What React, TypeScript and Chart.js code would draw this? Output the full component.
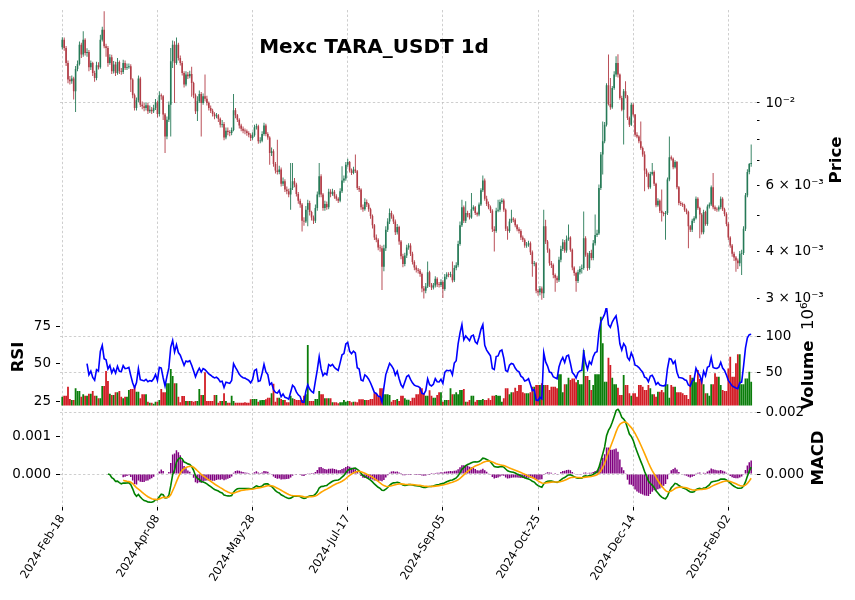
import React, { useEffect, useRef } from "react";
import { Chart, registerables } from "chart.js";

Chart.register(...registerables);

// ---------------- data ----------------
const TITLE = "Mexc TARA_USDT 1d";
const X_TICK_INDEX = [0, 50, 100, 150, 200, 250, 300, 350];
const X_TICK_LABELS = [
  "2024-Feb-18", "2024-Apr-08", "2024-May-28", "2024-Jul-17",
  "2024-Sep-05", "2024-Oct-25", "2024-Dec-14", "2025-Feb-02",
];

// prices are stored in units of 1e-5 USDT
const PRICE_UNIT = 1e-5;
const FIRST_OPEN = 1410;
const CLOSE = [
  1477,1403,1280,1155,1143,1162,1075,1233,1272,1432,
  1347,1477,1361,1369,1246,1280,1203,1167,1262,1246,
  1477,1571,1418,1403,1280,1325,1216,1267,1203,1288,
  1216,1211,1280,1241,1246,1254,1155,1049,970,1017,
  1162,990,980,970,986,950,960,950,970,1004,
  935,1049,1042,931,814,902,990,1293,1432,1280,
  1432,1320,1280,1203,1120,1191,1179,1196,1131,1049,
  950,1011,1057,1000,1042,1027,1000,970,954,935,
  921,927,908,875,879,809,843,836,831,847,
  956,927,902,871,853,843,840,831,823,806,
  820,861,866,790,793,826,871,826,809,735,
  743,687,660,654,664,608,618,587,581,569,
  593,618,605,571,548,535,484,482,518,540,
  511,494,484,524,569,637,569,524,537,526,
  579,571,579,563,555,548,581,621,628,684,
  695,660,650,664,657,593,587,526,520,544,
  535,520,499,471,437,431,411,409,365,409,
  458,482,508,497,482,451,466,426,389,371,
  391,411,416,395,376,363,358,356,349,319,
  315,323,353,327,321,325,339,327,326,332,
  318,343,348,347,348,336,362,368,420,471,
  526,484,508,501,494,520,526,508,503,535,
  584,621,555,537,526,515,460,455,515,518,
  544,549,518,461,455,482,490,487,471,460,
  455,437,431,416,418,422,399,371,373,315,
  312,319,310,468,426,405,373,369,347,341,
  336,381,407,424,403,433,437,405,363,351,
  334,353,360,362,435,393,362,397,385,422,
  444,448,593,728,790,875,1115,994,974,1097,
  1191,1280,1191,1031,960,1075,1042,912,875,990,
  931,823,814,790,758,728,660,646,595,646,
  654,608,533,548,515,508,505,508,624,716,
  710,673,695,595,540,537,533,518,511,468,
  458,484,492,555,524,503,451,511,475,529,
  535,595,526,520,519,526,555,520,505,475,
  437,416,395,386,379,373,395,397,461,567,
  654,687,691,
];
const HIGH = [
  1500,1497,1420,1300,1180,1185,1175,1255,1300,1460,
  1450,1555,1490,1400,1385,1300,1290,1220,1290,1285,
  1523,1600,1758,1440,1420,1350,1345,1295,1290,1320,
  1300,1240,1305,1300,1275,1275,1270,1165,1060,1035,
  1185,1175,1010,1000,1005,1000,985,975,990,1025,
  1015,1075,1060,1050,940,920,1010,1403,1470,1462,
  1497,1450,1340,1295,1215,1215,1210,1220,1250,1140,
  1060,1042,1080,1070,1060,1191,1045,1010,985,965,
  945,940,935,915,900,890,860,860,845,860,
  1057,970,935,910,880,865,855,850,840,830,
  835,875,880,875,810,840,885,880,835,815,
  760,752,695,798,680,672,632,625,598,590,
  691,691,630,612,578,555,540,495,530,551,
  548,515,500,535,580,691,645,575,548,545,
  590,588,590,585,570,560,592,677,640,695,
  710,700,668,675,728,662,600,592,535,556,
  552,540,525,503,475,445,435,418,415,418,
  468,492,522,515,503,488,475,470,430,395,
  398,418,422,422,400,380,368,362,360,352,
  324,330,377,356,330,330,344,342,332,338,
  336,349,353,353,354,377,368,375,428,482,
  551,532,546,515,508,575,533,530,512,542,
  592,640,628,565,545,532,520,468,525,551,
  552,556,555,522,468,490,518,495,492,475,
  465,460,442,435,425,428,426,403,378,376,
  318,324,323,518,487,430,408,378,372,350,
  345,388,415,432,430,442,473,440,408,366,
  354,358,366,370,513,440,398,402,405,430,
  503,458,605,740,893,890,1130,1347,1167,1110,
  1215,1333,1350,1200,1045,1090,1143,1050,920,1000,
  998,935,835,820,893,765,743,668,652,655,
  691,660,612,556,552,587,512,514,632,814,
  724,715,703,700,600,546,542,538,522,515,
  472,490,498,562,560,528,508,518,515,535,
  542,602,650,532,526,532,562,560,525,510,
  480,440,420,400,390,384,402,405,468,575,
  665,691,774,
];
const LOW = [
  1390,1380,1255,1130,1120,1125,1021,946,1215,1260,
  1320,1330,1340,1330,1215,1225,1180,1140,1150,1230,
  1235,1460,1400,1330,1250,1265,1195,1200,1180,1190,
  1195,1190,1195,1225,1225,1235,1070,1030,955,955,
  1005,975,962,950,955,935,940,935,940,958,
  915,920,1020,900,735,800,890,814,1240,1000,
  1265,1300,1260,1185,1100,1108,1160,1165,1040,1030,
  935,895,1000,814,990,1010,985,955,940,920,
  905,910,890,860,860,795,800,820,815,820,
  840,910,890,855,840,830,825,818,810,792,
  798,812,850,778,780,785,818,815,798,684,
  722,675,648,644,645,598,600,578,570,560,
  518,585,595,562,538,525,453,470,478,468,
  500,485,475,478,515,560,560,515,515,518,
  520,560,565,555,548,540,543,575,612,620,
  675,652,642,645,650,585,578,518,512,515,
  527,512,490,462,430,424,404,400,316,355,
  402,452,475,490,475,444,445,418,382,364,
  366,385,405,390,370,357,352,350,343,312,
  300,310,320,322,316,317,321,322,321,322,
  301,315,338,342,342,331,332,357,364,415,
  466,478,478,495,488,490,515,502,497,498,
  530,578,548,530,520,508,452,401,450,510,
  512,538,512,455,431,450,478,480,465,454,
  448,430,425,410,410,413,392,343,366,310,
  305,306,298,301,420,398,367,362,340,313,
  330,332,375,402,398,398,428,400,357,345,
  313,330,348,350,358,388,356,358,380,380,
  416,438,444,585,644,780,865,985,960,965,
  1085,1175,1170,1020,950,774,1030,900,862,868,
  920,812,805,780,750,718,581,635,588,590,
  640,600,526,528,508,482,498,431,502,618,
  702,665,668,588,533,530,527,512,504,409,
  452,452,478,488,518,435,445,446,470,470,
  522,530,520,514,512,513,520,514,498,468,
  430,410,388,378,354,360,366,347,392,455,
  560,645,675,
];
// volume in millions
const VOLUME_M = [
  16.7,18.1,18.1,30.6,13.4,12.1,12.1,28.3,24.6,24.6,
  16.7,19.9,18.1,18.1,20.9,20.9,24.6,18.1,18.1,14.4,
  14.4,31.5,31.5,52.3,38.4,20.9,19.0,19.0,22.7,22.7,
  24.6,16.7,14.4,16.7,16.7,25.9,27.3,27.3,30.6,23.6,
  23.6,14.4,19.9,19.9,19.9,9.7,8.4,8.4,7.0,9.7,
  9.7,12.1,27.3,22.7,22.7,35.2,35.2,55.1,45.4,35.2,
  35.2,16.7,8.8,17.6,17.6,10.7,10.7,10.7,10.7,9.7,
  10.7,10.7,27.3,19.0,19.0,50.5,10.7,10.7,10.7,10.7,
  19.0,19.0,8.4,10.7,10.7,21.3,10.7,8.4,8.4,18.1,
  10.7,8.4,8.4,8.4,8.4,8.4,8.8,8.4,8.4,13.0,
  13.4,13.4,13.4,9.7,11.6,12.1,12.1,13.0,15.3,15.3,
  21.3,34.7,9.7,15.3,15.3,13.4,12.1,12.1,8.8,8.8,
  18.1,14.4,13.4,12.1,12.1,12.1,12.1,18.1,19.9,88.4,
  10.7,10.7,10.7,13.4,13.4,24.6,19.9,19.9,14.4,14.4,
  14.4,14.4,8.8,8.8,8.8,7.4,8.8,8.8,12.1,9.7,
  10.7,10.7,8.8,9.7,9.7,8.8,13.0,13.0,13.0,12.1,
  12.1,12.1,13.4,13.4,21.3,21.3,16.7,28.3,28.3,19.9,
  19.9,19.9,19.0,9.7,12.1,12.1,13.4,10.7,18.1,18.1,
  14.4,12.5,12.5,10.7,15.3,15.3,19.9,19.9,28.3,28.3,
  21.3,18.1,18.1,25.5,18.1,15.3,15.3,19.0,22.7,22.7,
  9.7,12.1,12.1,12.1,28.3,19.9,19.9,22.7,19.9,25.9,
  25.9,27.3,9.7,9.7,12.1,18.1,18.1,9.7,12.1,12.1,
  12.1,13.4,12.1,12.1,14.4,12.1,18.1,18.1,19.0,18.1,
  18.1,9.7,14.4,28.3,28.3,19.9,22.7,22.7,29.2,24.6,
  32.9,32.9,22.7,21.3,21.3,21.3,22.7,30.6,30.6,32.9,
  32.9,32.9,35.2,32.9,32.9,32.9,25.9,30.6,30.6,30.6,
  28.3,47.7,47.7,22.7,33.8,33.8,43.1,39.8,42.1,42.1,
  36.6,39.8,33.8,33.8,81.5,45.4,45.4,39.8,25.9,32.9,
  47.7,47.7,47.7,127.8,90.8,37.5,37.5,70.9,60.7,43.1,
  33.8,33.8,29.2,19.0,19.0,46.8,32.9,32.9,21.3,18.1,
  21.3,21.3,16.7,32.9,32.9,30.6,25.9,25.9,32.9,28.3,
  19.9,19.9,16.7,23.6,23.6,25.9,22.7,33.8,33.8,15.3,
  32.9,30.6,30.6,22.7,22.7,22.7,21.3,19.0,19.0,13.4,
  46.8,43.1,43.1,36.6,53.7,41.2,41.2,33.8,21.3,21.3,
  18.1,33.8,33.8,49.1,44.5,44.5,32.9,25.9,24.6,24.6,
  56.0,72.2,44.5,44.5,63.0,75.5,75.5,33.8,33.8,42.1,
  42.1,51.4,37.5,
];

const PRICE_TICKS = [0.003, 0.004, 0.005, 0.006, 0.007, 0.008, 0.009, 0.01];
const PRICE_LABEL_VALUES = [0.003, 0.004, 0.006, 0.01];
const PRICE_LABELS = ["3 × 10⁻³", "4 × 10⁻³", "6 × 10⁻³", "10⁻²"];
const RSI_TICKS = [25, 50, 75];
const VOLUME_TICKS = [50, 100];
const HIST_TICKS = [0, 0.001];
const MACD_TICKS = [0, 0.002];

const RSI_PERIOD = 14;
const RSI_START = 13;
const MACD_FAST = 12;
const MACD_SLOW = 26;
const MACD_SIGNAL = 9;
const MACD_START = 24;
const SIGNAL_START = 32;

// ---------------- layout / style ----------------
const W = 855;
const FONT = "'DejaVu Sans', sans-serif";
const TICK_SIZE = 13.5;
const XTICK_SIZE = 11.5;
const XTICK_ROT = 58;
const LABEL_SIZE = 16.5;
const PLOT_L = 60;
const PLOT_R = 756.5;
const RIGHT_W = W - PLOT_R;
const X_MIN = -1.2;
const X_MAX = 364.8;

const A = { top: 0, height: 312, plotTop: 10, plotBottom: 305 };
const B = { top: 300, height: 115, plotTop: 308, plotBottom: 405.5 };
const C = { top: 404, height: 196, plotTop: 408.5, plotBottom: 506.5 };

const PRICE_MIN = Math.pow(10, -2 - (A.plotBottom - 103) / 374);
const PRICE_MAX = Math.pow(10, -2 + (103 - A.plotTop) / 374);

const GRID = "#c2c2c2";
const DASH = [2.4, 2.2];
const UP = "#267a57";
const DOWN = "#b23c46";
const VOL_UP = "#0a7d0a";
const VOL_DOWN = "#d21d26";

// ---------------- indicators ----------------
function emaSeries(v: number[], span: number) {
  const a = 2 / (span + 1);
  const out: number[] = [];
  let prev = v[0];
  for (let i = 0; i < v.length; i++) {
    prev = i === 0 ? v[0] : a * v[i] + (1 - a) * prev;
    out.push(prev);
  }
  return out;
}
// Wilder-style RSI (exponentially weighted, alpha = 1/n)
function rsiSeries(c: number[], n: number) {
  const alpha = 1 / n;
  const out: (number | null)[] = c.map(() => null);
  let ng = 0, nl = 0, den = 0;
  for (let i = 1; i < c.length; i++) {
    const d = c[i] - c[i - 1];
    const g = d > 0 ? d : 0;
    const l = d < 0 ? -d : 0;
    ng = g + (1 - alpha) * ng;
    nl = l + (1 - alpha) * nl;
    den = 1 + (1 - alpha) * den;
    const ag = ng / den, al = nl / den;
    out[i] = al === 0 ? 100 : 100 - 100 / (1 + ag / al);
  }
  return out;
}

function xScale(showLabels: boolean, height: number): any {
  return {
    type: "linear",
    min: X_MIN,
    max: X_MAX,
    offset: false,
    afterBuildTicks: (s: any) => { s.ticks = X_TICK_INDEX.map((v) => ({ value: v })); },
    afterFit: (s: any) => { s.height = height; s.paddingLeft = 0; s.paddingRight = 0; },
    grid: { display: true, offset: false, color: GRID, lineWidth: 0.8, drawTicks: showLabels, tickLength: 4, tickColor: "#000", tickWidth: 1, tickBorderDash: [] },
    border: { display: false, dash: DASH },
    ticks: {
      display: showLabels, autoSkip: false, maxRotation: XTICK_ROT, minRotation: XTICK_ROT, padding: 2,
      color: "#000", font: { family: FONT, size: XTICK_SIZE },
      callback: (v: any) => { const k = X_TICK_INDEX.indexOf(v); return k >= 0 ? X_TICK_LABELS[k] : ""; },
    },
  };
}

function yScale(opts: any): any {
  const { position, min, max, ticks, width, grid, fmt, type, tickLen } = opts;
  return {
    type: type || "linear",
    position,
    min,
    max,
    afterBuildTicks: (s: any) => { s.ticks = ticks.map((v: number) => ({ value: v })); },
    afterFit: (s: any) => { s.width = width; s.paddingTop = 0; s.paddingBottom = 0; },
    grid: {
      display: true,
      color: grid,
      lineWidth: 0.8,
      drawTicks: true,
      tickLength: tickLen || 4,
      tickColor: "#000",
      tickWidth: 1,
      tickBorderDash: [],
    },
    border: { display: false, dash: DASH },
    ticks: { autoSkip: false, padding: 9 - (tickLen || 4), color: "#000", font: { family: FONT, size: TICK_SIZE }, callback: fmt },
  };
}

function rotatedText(ctx: any, parts: { t: string; bold: boolean }[], cx: number, cy: number) {
  ctx.save();
  let total = 0;
  for (const p of parts) {
    ctx.font = `${p.bold ? "bold " : ""}${LABEL_SIZE}px ${FONT}`;
    total += ctx.measureText(p.t).width;
  }
  ctx.translate(cx, cy);
  ctx.rotate(-Math.PI / 2);
  ctx.textBaseline = "middle";
  ctx.textAlign = "left";
  ctx.fillStyle = "#000";
  let x = -total / 2;
  for (const p of parts) {
    ctx.font = `${p.bold ? "bold " : ""}${LABEL_SIZE}px ${FONT}`;
    ctx.fillText(p.t, x, 0);
    x += ctx.measureText(p.t).width;
  }
  ctx.restore();
}

const baseOptions = (padding: any, scales: any) => ({
  responsive: false,
  animation: false,
  events: [],
  devicePixelRatio: 1,
  layout: { padding, autoPadding: false },
  plugins: { legend: { display: false }, tooltip: { enabled: false }, title: { display: false } },
  scales,
});

export default function App() {
  const refA = useRef<HTMLCanvasElement>(null);
  const refB = useRef<HTMLCanvasElement>(null);
  const refC = useRef<HTMLCanvasElement>(null);

  useEffect(() => {
    const close = CLOSE.map((v) => v * PRICE_UNIT);
    const open = close.map((_, i) => (i === 0 ? FIRST_OPEN * PRICE_UNIT : close[i - 1]));
    const high = HIGH.map((v) => v * PRICE_UNIT);
    const low = LOW.map((v) => v * PRICE_UNIT);
    const up = close.map((c, i) => c >= open[i]);

    const bodies = close.map((c, i) => ({ x: i, y: [Math.min(open[i], c), Math.max(open[i], c)] }));
    const wicks = close.map((_, i) => ({ x: i, y: [low[i], high[i]] }));
    const candleColors = up.map((u) => (u ? UP : DOWN));
    const volColors = up.map((u) => (u ? VOL_UP : VOL_DOWN));

    const rsi = rsiSeries(close, RSI_PERIOD);
    const emaF = emaSeries(close, MACD_FAST);
    const emaS = emaSeries(close, MACD_SLOW);
    const macd = close.map((_, i) => emaF[i] - emaS[i]);
    const signal = emaSeries(macd.slice(MACD_START), MACD_SIGNAL);
    const sigFull: (number | null)[] = macd.map((_, i) => (i >= MACD_START ? signal[i - MACD_START] : null));

    const rsiPts = rsi.map((v, i) => ({ x: i, y: v })).filter((p) => p.x >= RSI_START);
    const macdPts = macd.map((v, i) => ({ x: i, y: v })).filter((p) => p.x >= MACD_START);
    const sigPts = sigFull.map((v, i) => ({ x: i, y: v as number })).filter((p) => p.x >= SIGNAL_START);
    const histPts = macd.map((v, i) => ({ x: i, y: i >= SIGNAL_START ? v - (sigFull[i] as number) : null })).filter((p) => p.x >= SIGNAL_START);
    const volPts = VOLUME_M.map((v, i) => ({ x: i, y: v }));

    const titlePlugin = {
      id: "panelTexts",
      afterDraw(chart: any) {
        const ctx = chart.ctx;
        ctx.save();
        ctx.font = `bold 20px ${FONT}`;
        ctx.fillStyle = "#000";
        ctx.textAlign = "center";
        ctx.textBaseline = "alphabetic";
        ctx.fillText(TITLE, 374, 53 - A.top);
        ctx.restore();
        rotatedText(ctx, [{ t: "Price", bold: true }], 836.5, 160 - A.top);
      },
    };
    const labelsB = {
      id: "labelsB",
      afterDraw(chart: any) {
        const ctx = chart.ctx;
        rotatedText(ctx, [{ t: "RSI", bold: true }], 19, 357 - B.top);
        rotatedText(ctx, [{ t: "Volume", bold: true }, { t: "  10⁶", bold: false }], 808.5, 356 - B.top);
      },
    };
    const labelsC = {
      id: "labelsC",
      afterDraw(chart: any) {
        rotatedText(chart.ctx, [{ t: "MACD", bold: true }], 818.5, 458 - C.top);
      },
    };

    const chartA = new Chart(refA.current as any, {
      type: "bar",
      data: {
        datasets: [
          { type: "bar", data: bodies as any, yAxisID: "price", backgroundColor: candleColors, barThickness: 1.6, grouped: false, inflateAmount: 0, borderWidth: 0, minBarLength: 0.7, order: 0 } as any,
          { type: "bar", data: wicks as any, yAxisID: "price", backgroundColor: candleColors, barThickness: 0.9, grouped: false, inflateAmount: 0, borderWidth: 0, order: 1 } as any,
        ],
      },
      options: baseOptions(
        { left: PLOT_L, right: 0, top: A.plotTop - A.top, bottom: A.top + A.height - A.plotBottom },
        {
          x: xScale(false, 0),
          price: yScale({
            type: "logarithmic", position: "right", min: PRICE_MIN, max: PRICE_MAX, ticks: PRICE_TICKS, width: RIGHT_W, tickLen: 3,
            grid: (ctx: any) => (ctx.tick && Math.abs(ctx.tick.value - 0.01) < 1e-9 ? GRID : "rgba(0,0,0,0)"),
            fmt: (v: any) => { const k = PRICE_LABEL_VALUES.findIndex((p) => Math.abs(p - v) < 1e-9); return k >= 0 ? PRICE_LABELS[k] : ""; },
          }),
        }
      ) as any,
      plugins: [titlePlugin],
    });

    const chartB = new Chart(refB.current as any, {
      type: "bar",
      data: {
        datasets: [
          { type: "line", data: rsiPts as any, yAxisID: "rsi", borderColor: "#0000ff", borderWidth: 1.6, pointRadius: 0, tension: 0, order: 0 } as any,
          { type: "bar", data: volPts as any, yAxisID: "vol", backgroundColor: volColors, barThickness: 1.8, grouped: false, inflateAmount: 0, borderWidth: 0, order: 1 } as any,
        ],
      },
      options: baseOptions(
        { left: 0, right: 0, top: B.plotTop - B.top, bottom: B.top + B.height - B.plotBottom },
        {
          x: xScale(false, 0),
          rsi: yScale({ position: "left", min: 22, max: 87, ticks: RSI_TICKS, width: PLOT_L, grid: "rgba(0,0,0,0)", fmt: (v: any) => String(v) }),
          vol: yScale({ position: "right", min: 4.44, max: 139.9, ticks: VOLUME_TICKS, width: RIGHT_W, grid: GRID, fmt: (v: any) => String(v) }),
        }
      ) as any,
      plugins: [labelsB],
    });

    const chartC = new Chart(refC.current as any, {
      type: "bar",
      data: {
        datasets: [
          { type: "line", data: sigPts as any, yAxisID: "macdR", borderColor: "#ffa500", borderWidth: 1.6, pointRadius: 0, tension: 0, order: 0 } as any,
          { type: "line", data: macdPts as any, yAxisID: "macdR", borderColor: "#008000", borderWidth: 1.6, pointRadius: 0, tension: 0, order: 1 } as any,
          { type: "bar", data: histPts as any, yAxisID: "hist", backgroundColor: "#800080", barThickness: 1.5, grouped: false, inflateAmount: 0, borderWidth: 0, order: 2 } as any,
        ],
      },
      options: baseOptions(
        { left: 0, right: 0, top: C.plotTop - C.top, bottom: 0 },
        {
          x: xScale(true, C.top + C.height - C.plotBottom),
          hist: yScale({ position: "left", min: -0.000871, max: 0.001756, ticks: HIST_TICKS, width: PLOT_L, grid: "rgba(0,0,0,0)", fmt: (v: any) => Number(v).toFixed(3) }),
          macdR: yScale({ position: "right", min: -0.001053, max: 0.002123, ticks: MACD_TICKS, width: RIGHT_W, grid: GRID, fmt: (v: any) => Number(v).toFixed(3) }),
        }
      ) as any,
      plugins: [labelsC],
    });

    return () => {
      chartA.destroy();
      chartB.destroy();
      chartC.destroy();
    };
  }, []);

  const cs = (t: number): React.CSSProperties => ({ position: "absolute", left: 0, top: t });
  return (
    <div style={{ position: "absolute", left: 0, top: 0, width: W, height: 600, background: "#fff", overflow: "hidden" }}>
      <canvas ref={refA} width={W} height={A.height} style={cs(A.top)} />
      <canvas ref={refB} width={W} height={B.height} style={cs(B.top)} />
      <canvas ref={refC} width={W} height={C.height} style={cs(C.top)} />
    </div>
  );
}
